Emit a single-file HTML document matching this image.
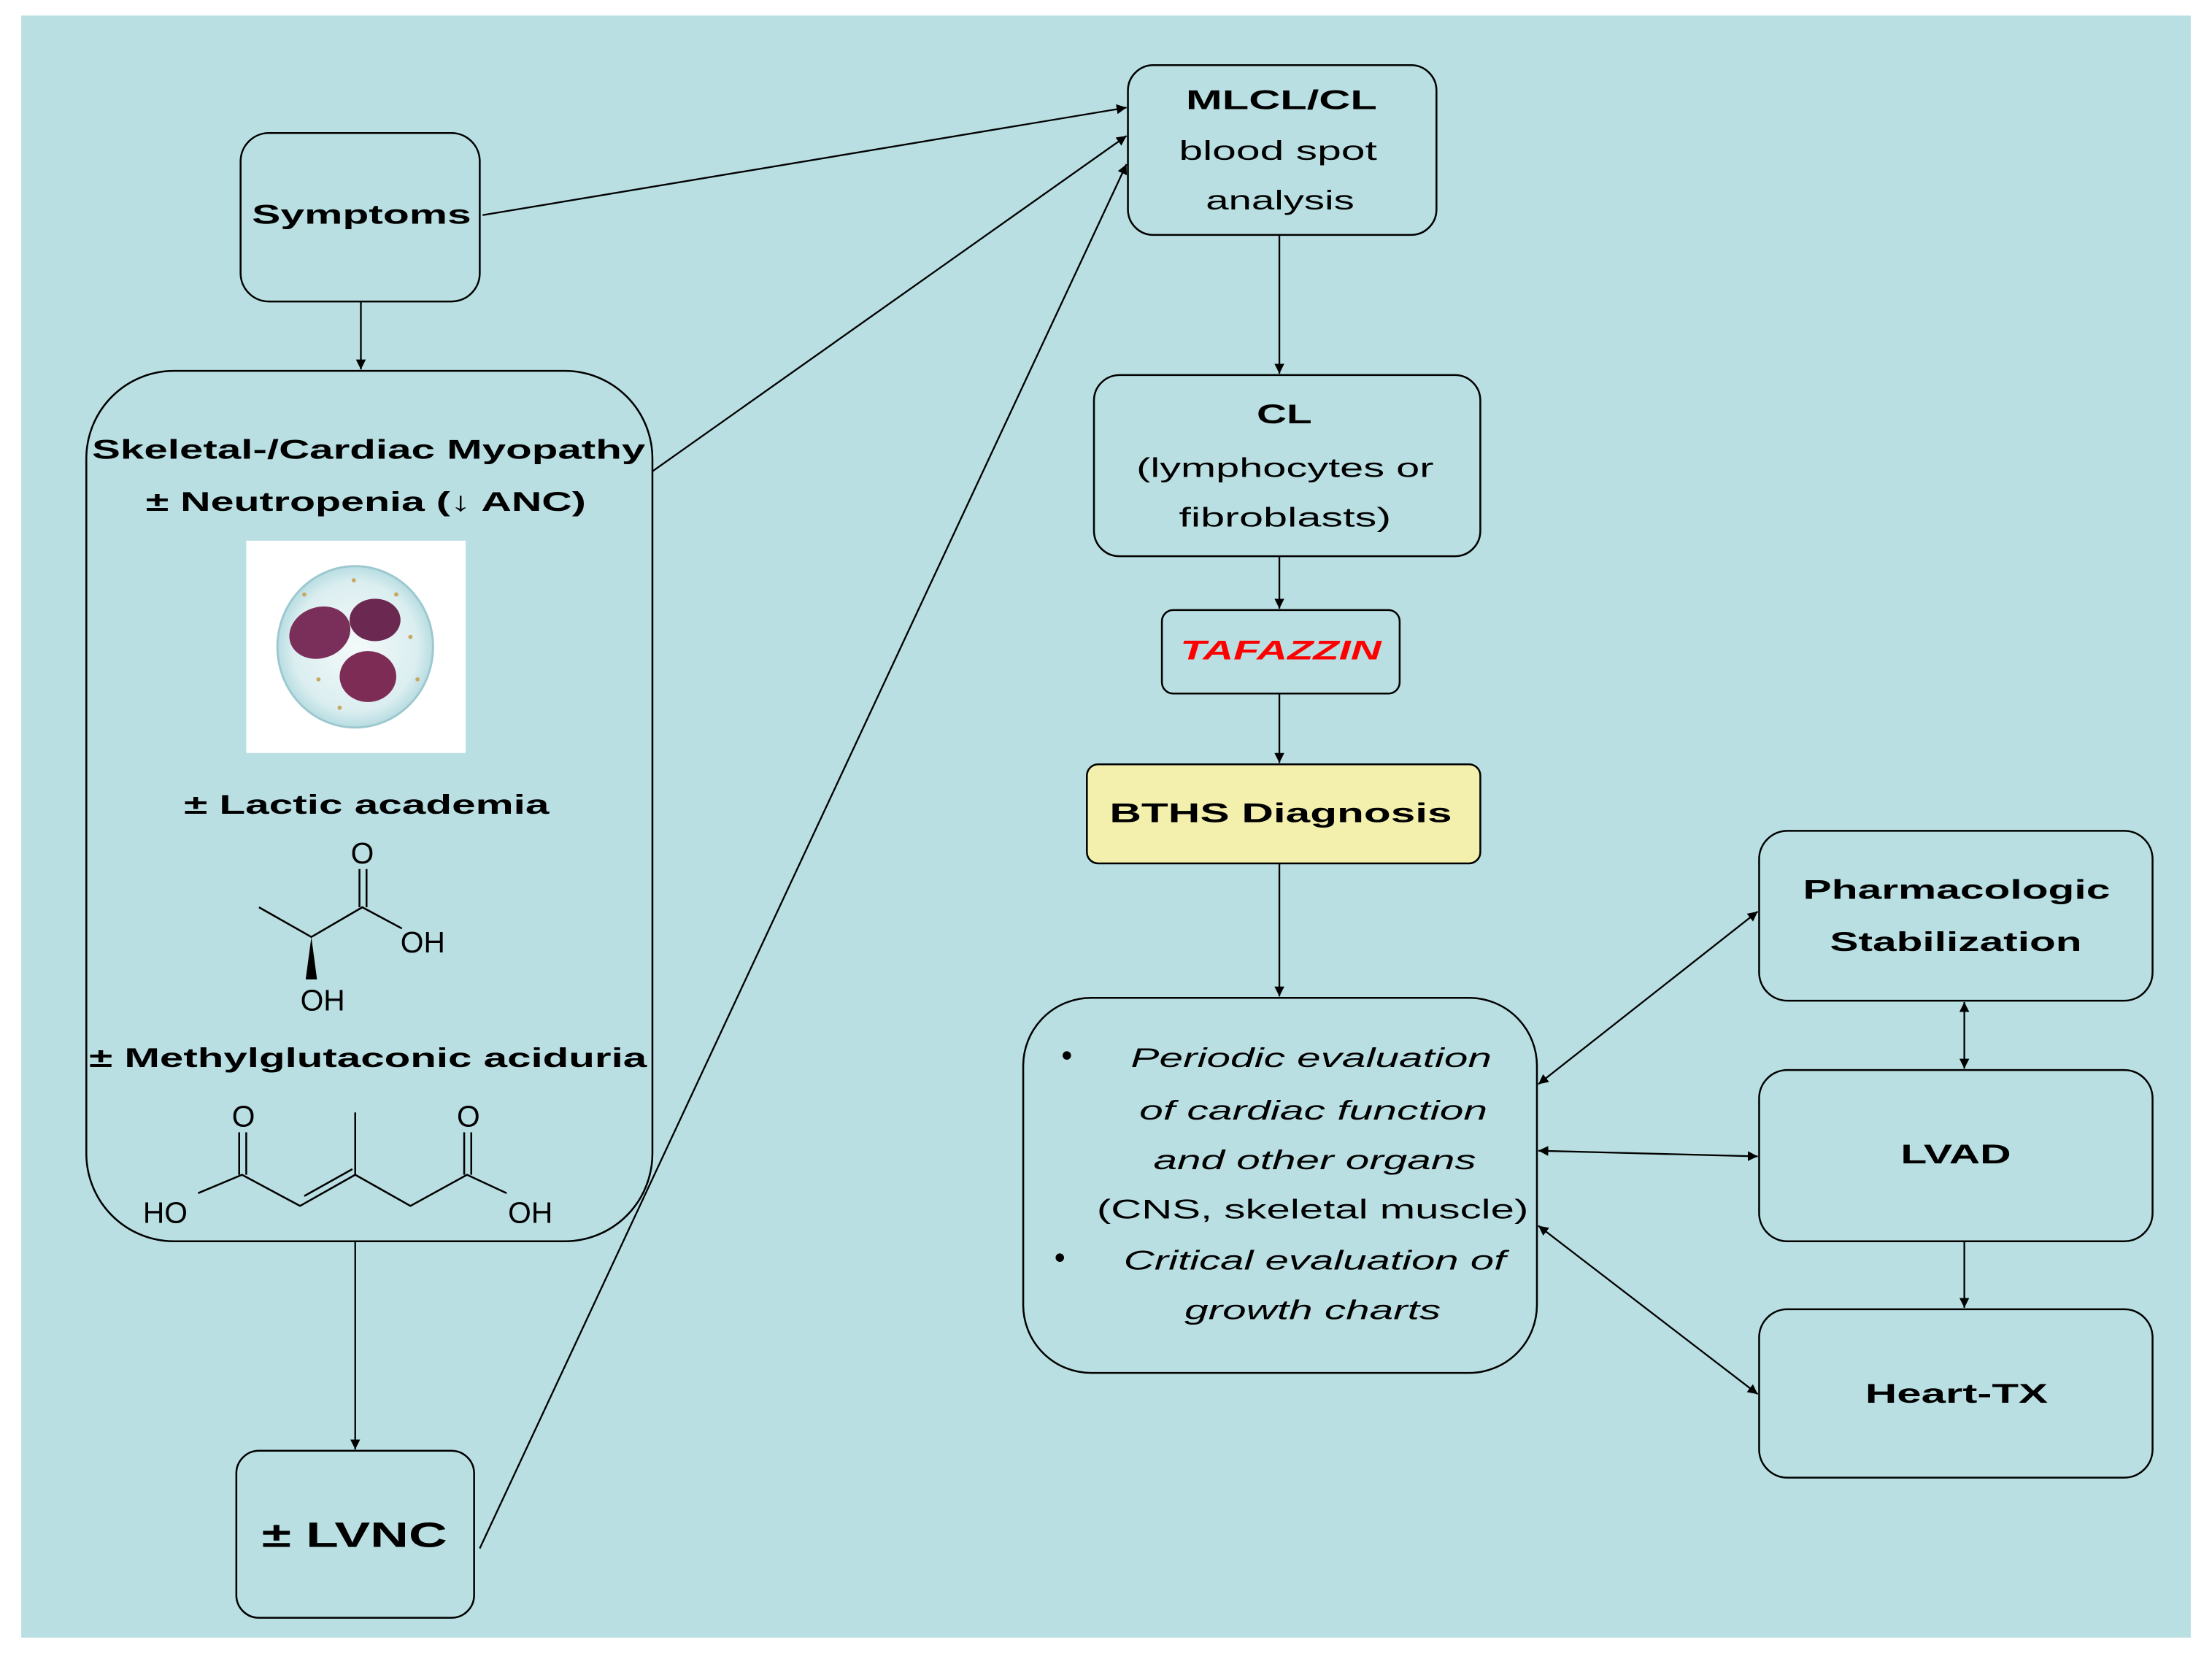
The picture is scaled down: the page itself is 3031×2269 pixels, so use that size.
<!DOCTYPE html>
<html><head><meta charset="utf-8"><style>html,body{margin:0;padding:0;background:#fff}svg{display:block}</style></head>
<body>
<svg width="3031" height="2269" viewBox="0 0 1563 1170" preserveAspectRatio="none" xmlns="http://www.w3.org/2000/svg" font-family="'Liberation Sans',sans-serif">
<defs>
<marker id="a" viewBox="0 0 10 10" refX="10" refY="5" markerWidth="7" markerHeight="7" orient="auto-start-reverse" markerUnits="userSpaceOnUse"><path d="M0,0 L10,5 L0,10 z" fill="#000"/></marker>
<radialGradient id="cg" cx="50%" cy="50%" r="50%"><stop offset="0" stop-color="#f4fafa"/><stop offset="0.8" stop-color="#dbeef0"/><stop offset="1" stop-color="#b8dde2"/></radialGradient>
</defs>
<rect x="0" y="0" width="1563" height="1170" fill="#fff"/>
<rect x="15" y="11" width="1533" height="1146" fill="#b9dfe2"/>
<g fill="none" stroke="#000" stroke-width="1.3">
<rect x="170" y="94" width="169" height="119" rx="20"/>
<rect x="61" y="262" width="400" height="615" rx="62"/>
<rect x="167" y="1025" width="168" height="118" rx="16"/>
<rect x="797" y="46" width="218" height="120" rx="18"/>
<rect x="773" y="265" width="273" height="128" rx="18"/>
<rect x="821" y="431" width="168" height="59" rx="8"/>
<rect x="768" y="540" width="278" height="70" rx="8" fill="#f3f0ae"/>
<rect x="723" y="705" width="363" height="265" rx="48"/>
<rect x="1243" y="587" width="278" height="120" rx="20"/>
<rect x="1243" y="756" width="278" height="121" rx="20"/>
<rect x="1243" y="925" width="278" height="119" rx="20"/>
</g>
<g stroke="#000" stroke-width="1.2" fill="none">
<line x1="255" y1="213" x2="255" y2="261" marker-end="url(#a)"/>
<line x1="341" y1="152" x2="796" y2="76" marker-end="url(#a)"/>
<line x1="461" y1="333" x2="796" y2="96" marker-end="url(#a)"/>
<line x1="339" y1="1094" x2="796" y2="116" marker-end="url(#a)"/>
<line x1="251" y1="877" x2="251" y2="1024" marker-end="url(#a)"/>
<line x1="904" y1="166" x2="904" y2="264" marker-end="url(#a)"/>
<line x1="904" y1="393" x2="904" y2="430" marker-end="url(#a)"/>
<line x1="904" y1="490" x2="904" y2="539" marker-end="url(#a)"/>
<line x1="904" y1="610" x2="904" y2="704" marker-end="url(#a)"/>
<line x1="1087" y1="766" x2="1242" y2="644" marker-start="url(#a)" marker-end="url(#a)"/>
<line x1="1087" y1="813" x2="1242" y2="817" marker-start="url(#a)" marker-end="url(#a)"/>
<line x1="1087" y1="866" x2="1242" y2="985" marker-start="url(#a)" marker-end="url(#a)"/>
<line x1="1388" y1="708" x2="1388" y2="755" marker-start="url(#a)" marker-end="url(#a)"/>
<line x1="1388" y1="877" x2="1388" y2="924" marker-end="url(#a)"/>
</g>
<rect x="174" y="382" width="155" height="150" fill="#fff"/>
<ellipse cx="251" cy="457" rx="55" ry="57" fill="url(#cg)" stroke="#9cc8cf" stroke-width="1.5"/>
<ellipse cx="226" cy="447" rx="22" ry="18" fill="#7a2f5a" transform="rotate(-20 226 447)"/>
<ellipse cx="265" cy="438" rx="18" ry="15" fill="#6b2850"/>
<ellipse cx="260" cy="478" rx="20" ry="18" fill="#7d2d55"/>
<g fill="#c8a860"><circle cx="215" cy="420" r="1.5"/><circle cx="290" cy="450" r="1.5"/><circle cx="240" cy="500" r="1.5"/><circle cx="280" cy="420" r="1.5"/><circle cx="225" cy="480" r="1.5"/><circle cx="295" cy="480" r="1.5"/><circle cx="250" cy="410" r="1.5"/></g>
<g stroke="#000" stroke-width="1.3" fill="none">
<polyline points="183,641 220,662 256,641 284,656"/>
<line x1="254" y1="641" x2="254" y2="614"/><line x1="259" y1="641" x2="259" y2="614"/>
<polyline points="140,843 171,830 212,852 251,830 290,852 330,830 358,843"/>
<line x1="169" y1="830" x2="169" y2="800"/><line x1="174" y1="830" x2="174" y2="800"/>
<line x1="328" y1="830" x2="328" y2="800"/><line x1="333" y1="830" x2="333" y2="800"/>
<line x1="251" y1="830" x2="251" y2="786"/>
<line x1="215" y1="845" x2="249" y2="826"/>
</g>
<path d="M220,662 L216,692 L224,692 z" fill="#000"/>
<g font-size="21" fill="#000">
<text x="256" y="610" text-anchor="middle">O</text>
<text x="283" y="673">OH</text>
<text x="228" y="714" text-anchor="middle">OH</text>
<text x="172" y="796" text-anchor="middle">O</text>
<text x="331" y="796" text-anchor="middle">O</text>
<text x="101" y="864">HO</text>
<text x="359" y="864">OH</text>
</g>
<g font-weight="bold" fill="#000" font-size="19">
<text x="178" y="158" textLength="155" lengthAdjust="spacingAndGlyphs">Symptoms</text>
<text x="65" y="324" textLength="391" lengthAdjust="spacingAndGlyphs">Skeletal-/Cardiac Myopathy</text>
<text x="103" y="361" textLength="311" lengthAdjust="spacingAndGlyphs">± Neutropenia (↓ ANC)</text>
<text x="130" y="575" textLength="258" lengthAdjust="spacingAndGlyphs">± Lactic academia</text>
<text x="63" y="754" textLength="394" lengthAdjust="spacingAndGlyphs">± Methylglutaconic aciduria</text>
<text x="185" y="1093" font-size="25" textLength="131" lengthAdjust="spacingAndGlyphs">± LVNC</text>
<text x="838" y="77" textLength="135" lengthAdjust="spacingAndGlyphs">MLCL/CL</text>
<text x="888" y="299" textLength="39" lengthAdjust="spacingAndGlyphs">CL</text>
<text x="834" y="466" fill="#ff0000" font-style="italic" textLength="142" lengthAdjust="spacingAndGlyphs">TAFAZZIN</text>
<text x="784" y="581" textLength="242" lengthAdjust="spacingAndGlyphs">BTHS Diagnosis</text>
<text x="1274" y="635" textLength="217" lengthAdjust="spacingAndGlyphs">Pharmacologic</text>
<text x="1293" y="672" textLength="178" lengthAdjust="spacingAndGlyphs">Stabilization</text>
<text x="1343" y="822" textLength="78" lengthAdjust="spacingAndGlyphs">LVAD</text>
<text x="1318" y="991" textLength="129" lengthAdjust="spacingAndGlyphs">Heart-TX</text>
</g>
<g fill="#000" font-size="19">
<text x="833" y="113" textLength="140" lengthAdjust="spacingAndGlyphs">blood spot</text>
<text x="852" y="148" textLength="105" lengthAdjust="spacingAndGlyphs">analysis</text>
<text x="803" y="337" textLength="210" lengthAdjust="spacingAndGlyphs">(lymphocytes or</text>
<text x="833" y="372" textLength="150" lengthAdjust="spacingAndGlyphs">fibroblasts)</text>
<text x="750" y="753" font-size="22">•</text>
<text x="745" y="896" font-size="22">•</text>
<g font-style="italic">
<text x="799" y="754" textLength="255" lengthAdjust="spacingAndGlyphs">Periodic evaluation</text>
<text x="805" y="791" textLength="246" lengthAdjust="spacingAndGlyphs">of cardiac function</text>
<text x="815" y="826" textLength="228" lengthAdjust="spacingAndGlyphs">and other organs</text>
<text x="794" y="897" textLength="270" lengthAdjust="spacingAndGlyphs">Critical evaluation of</text>
<text x="837" y="932" textLength="181" lengthAdjust="spacingAndGlyphs">growth charts</text>
</g>
<text x="775" y="861" textLength="305" lengthAdjust="spacingAndGlyphs">(CNS, skeletal muscle)</text>
</g>
</svg>
</body></html>
